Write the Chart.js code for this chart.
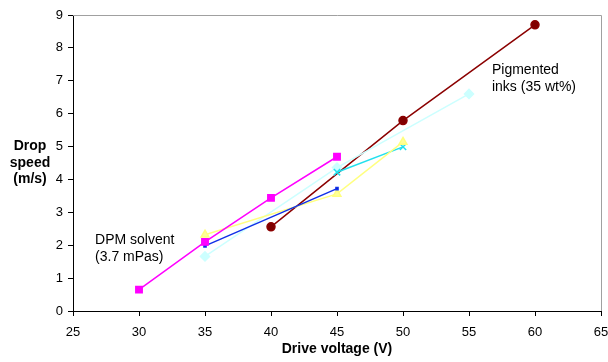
<!DOCTYPE html>
<html>
<head>
<meta charset="utf-8">
<script src="https://cdn.jsdelivr.net/npm/chart.js@4.4.0/dist/chart.umd.min.js"></script>
<style>
  body { margin: 0; background: #fff; }
  #wrap { width: 608px; height: 362px; }
</style>
</head>
<body>
<div id="wrap"><canvas id="grafik" width="608" height="362"></canvas></div>
<script>
// data
const xTicks = [25, 30, 35, 40, 45, 50, 55, 60, 65];
const yTicks = [0, 1, 2, 3, 4, 5, 6, 7, 8, 9];

const magentaX = [30, 35, 40, 45];
const magentaY = [0.65, 2.1, 3.44, 4.69];

const darkRedX = [40, 50, 60];
const darkRedY = [2.56, 5.79, 8.7];

const blueX = [35, 45];
const blueY = [1.98, 3.72];

const yellowX = [35, 45, 50];
const yellowY = [2.32, 3.56, 5.14];

const cyanX = [45, 50];
const cyanY = [4.22, 4.99];

const lightCyanX = [35, 45, 55];
const lightCyanY = [1.66, 4.36, 6.6];

function pts(xs, ys) {
    return xs.map((x, i) => ({ x: x, y: ys[i] }));
}

const fontName = '"Liberation Sans", Arial, sans-serif';

// plugin untuk teks tambahan dan bingkai
const extraText = {
    id: 'extraText',
    afterDraw(chart) {
        const c = chart.ctx;
        const a = chart.chartArea;
        const sx = chart.scales.x, sy = chart.scales.y;
        c.save();
        c.strokeStyle = '#a0a0a0';
        c.lineWidth = 1;
        c.beginPath();
        c.moveTo(a.left, a.top + 0.5);
        c.lineTo(a.right + 0.5, a.top + 0.5);
        c.lineTo(a.right + 0.5, a.bottom);
        c.stroke();

        c.fillStyle = '#000';
        c.font = 'bold 14px ' + fontName;
        c.textAlign = 'center';
        c.textBaseline = 'middle';
        c.fillText('Drop', 30, sy.getPixelForValue(5));
        c.fillText('speed', 30, sy.getPixelForValue(4.5));
        c.fillText('(m/s)', 30, sy.getPixelForValue(4));
        c.fillText('Drive voltage (V)', (a.left + a.right) / 2, 349);

        c.font = '14px ' + fontName;
        c.textAlign = 'left';
        c.fillText('DPM solvent', sx.getPixelForValue(26.67), sy.getPixelForValue(2.16));
        c.fillText('(3.7 mPas)', sx.getPixelForValue(26.67), sy.getPixelForValue(1.64));
        c.fillText('Pigmented', sx.getPixelForValue(56.74), sy.getPixelForValue(7.33));
        c.fillText('inks (35 wt%)', sx.getPixelForValue(56.74), sy.getPixelForValue(6.81));
        c.restore();
    }
};

const ctx = document.getElementById('grafik');
new Chart(ctx, {
    type: 'scatter',
    data: {
        datasets: [
            {
                data: pts(darkRedX, darkRedY),
                showLine: true,
                borderColor: '#8b0000',
                backgroundColor: '#800000',
                borderWidth: 1.5,
                pointStyle: 'circle',
                pointRadius: 4,
                order: 6
            },
            {
                data: pts(lightCyanX, lightCyanY),
                showLine: true,
                borderColor: '#ccffff',
                backgroundColor: '#ccffff',
                borderWidth: 1.5,
                pointStyle: 'rectRot',
                pointRadius: 4.5,
                order: 5
            },
            {
                data: pts(cyanX, cyanY),
                showLine: true,
                borderColor: '#22e0ee',
                backgroundColor: '#22e0ee',
                borderWidth: 1.5,
                pointStyle: 'crossRot',
                pointRadius: 4.5,
                pointBorderWidth: 1.5,
                order: 4
            },
            {
                data: pts(yellowX, yellowY),
                showLine: true,
                borderColor: '#ffff80',
                backgroundColor: '#ffff99',
                borderWidth: 1.5,
                pointStyle: 'triangle',
                pointRadius: 4.5,
                order: 3
            },
            {
                data: pts(blueX, blueY),
                showLine: true,
                borderColor: '#1030e8',
                backgroundColor: '#000080',
                borderWidth: 1.5,
                pointStyle: 'rect',
                pointRadius: 1.5,
                order: 2
            },
            {
                data: pts(magentaX, magentaY),
                showLine: true,
                borderColor: '#ff00ff',
                backgroundColor: '#ff00ff',
                borderWidth: 1.5,
                pointStyle: 'rect',
                pointRadius: 4.5,
                order: 1
            }
        ]
    },
    options: {
        responsive: false,
        animation: false,
        layout: { padding: { top: 15, right: 7, left: 0, bottom: 0 } },
        plugins: {
            legend: { display: false },
            tooltip: { enabled: false }
        },
        scales: {
            x: {
                type: 'linear',
                min: 25,
                max: 65,
                afterBuildTicks: (s) => { s.ticks = xTicks.map(v => ({ value: v })); },
                afterFit: (s) => { s.height = 51; s.paddingLeft = 0; s.paddingRight = 0; },
                grid: { drawOnChartArea: false, tickLength: 5, color: '#000' },
                border: { color: '#000', width: 1 },
                ticks: { color: '#000', font: { family: fontName, size: 13 }, padding: 9, maxRotation: 0 }
            },
            y: {
                min: 0,
                max: 9,
                afterBuildTicks: (s) => { s.ticks = yTicks.map(v => ({ value: v })); },
                afterFit: (s) => { s.width = 73; s.paddingTop = 0; s.paddingBottom = 0; },
                grid: { drawOnChartArea: false, tickLength: 5, color: '#000' },
                border: { color: '#000', width: 1 },
                ticks: { color: '#000', font: { family: fontName, size: 13 }, padding: 5 }
            }
        }
    },
    plugins: [extraText]
});
</script>
</body>
</html>
